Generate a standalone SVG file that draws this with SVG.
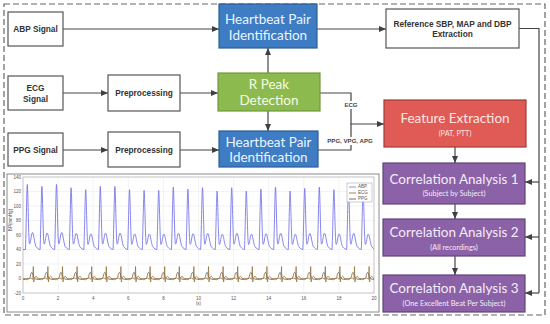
<svg xmlns="http://www.w3.org/2000/svg" xmlns:xlink="http://www.w3.org/1999/xlink" width="550" height="324" viewBox="0 0 550 324">
<style>
.wbox{fill:#ffffff;stroke:#555555;stroke-width:1.2}
.blue{fill:#3e7cc4;stroke:#2f5d93;stroke-width:1.2}
.green{fill:#8cba4f;stroke:#6f9a3a;stroke-width:1.2}
.red{fill:#e05a56;stroke:#9e3b36;stroke-width:1.2}
.purple{fill:#8b62a7;stroke:#5f4478;stroke-width:1.2}
.lbl{font-family:"Liberation Sans",Arial,sans-serif;font-weight:bold;font-size:8.3px;fill:#333333;text-anchor:middle}
.big{font-family:Lato,"Open Sans",sans-serif;font-size:13.5px;text-anchor:middle}
.sub{font-family:Lato,"Open Sans",sans-serif;font-size:7.3px;text-anchor:middle}
.tb{fill:#eaf6ff}
.tg{fill:#f4fbe8}
.tr{fill:#ffe6e2}
.tp{fill:#f4ecf8}
.conn{fill:none;stroke:#454545;stroke-width:1.2}
.clbl{font-family:"Liberation Sans",Arial,sans-serif;font-weight:bold;font-size:6.1px;fill:#444444;text-anchor:middle}
.tick{font-family:"Liberation Sans",Arial,sans-serif;font-size:4.5px;fill:#555555}
.grid{stroke:#e6e6e6;stroke-width:0.5}
.abp{fill:none;stroke:#7474ec;stroke-width:0.9}
.ecg{fill:none;stroke:#8e6a2c;stroke-width:0.7}
.ppg{fill:none;stroke:#5a4a47;stroke-width:0.7}
</style>
<defs>
<marker id="arr" markerWidth="7" markerHeight="6" refX="7" refY="3" orient="auto" markerUnits="userSpaceOnUse">
<path d="M0,0 L7,3 L0,6 z" fill="#404040"/>
</marker>
<clipPath id="plotclip"><rect x="23" y="177" width="351" height="116"/></clipPath>
<path id="abpb" d="M0,0 C0.8,-25 1.3,-65 1.8,-65 C2.4,-65 3,-10 3.9,-6 C4.8,-3 5.8,-17 7,-17 C8.2,-17 9,-6 10.5,-3 C12,-1 13.5,0 14.6,0"/>
<path id="ecgb" d="M0,0 L4.5,0 Q5.2,-1.8 5.9,0 L7.3,0.8 L7.8,-12 L8.3,3.5 L8.8,0 Q10.5,-4.5 12.2,0 L14.6,0"/>
<path id="ppgb" d="M0,1 C2,1.5 3.5,1 4.8,-2 C5.6,-7 6.8,-7.5 7.6,-3 C8.4,0 10,1.2 14.6,1"/>
</defs>
<rect width="550" height="324" fill="#ffffff"/>
<rect x="4" y="4" width="541" height="311" fill="none" stroke="#666666" stroke-width="1.2" stroke-dasharray="6 3"/>

<g id="chart">
<rect x="7" y="174" width="372" height="138" fill="#ffffff" stroke="#8a8a8a" stroke-width="1"/>
<g class="grid">
<line x1="23" y1="191.5" x2="374" y2="191.5"/><line x1="23" y1="206" x2="374" y2="206"/><line x1="23" y1="220.5" x2="374" y2="220.5"/><line x1="23" y1="235" x2="374" y2="235"/><line x1="23" y1="249.5" x2="374" y2="249.5"/><line x1="23" y1="264" x2="374" y2="264"/><line x1="23" y1="278.5" x2="374" y2="278.5"/>
<line x1="58.1" y1="177" x2="58.1" y2="293"/><line x1="93.2" y1="177" x2="93.2" y2="293"/><line x1="128.3" y1="177" x2="128.3" y2="293"/><line x1="163.4" y1="177" x2="163.4" y2="293"/><line x1="198.5" y1="177" x2="198.5" y2="293"/><line x1="233.6" y1="177" x2="233.6" y2="293"/><line x1="268.7" y1="177" x2="268.7" y2="293"/><line x1="303.8" y1="177" x2="303.8" y2="293"/><line x1="338.9" y1="177" x2="338.9" y2="293"/>
</g>
<g clip-path="url(#plotclip)">
<path class="abp" d="M23,249.5 L25.5,249.5"/>
<g class="abp">
<use href="#abpb" transform="translate(25.5 249.5)"/>
<use href="#abpb" transform="translate(40.1 249.5) scale(1 0.97)"/>
<use href="#abpb" transform="translate(54.7 249.5)"/>
<use href="#abpb" transform="translate(69.3 249.5) scale(1 0.95)"/>
<use href="#abpb" transform="translate(83.9 249.5) scale(1 0.92)"/>
<use href="#abpb" transform="translate(98.5 249.5) scale(1 0.97)"/>
<use href="#abpb" transform="translate(113.1 249.5) scale(1 0.97)"/>
<use href="#abpb" transform="translate(127.7 249.5) scale(1 0.92)"/>
<use href="#abpb" transform="translate(142.3 249.5) scale(1 0.91)"/>
<use href="#abpb" transform="translate(156.9 249.5) scale(1 0.91)"/>
<use href="#abpb" transform="translate(171.5 249.5) scale(1 0.96)"/>
<use href="#abpb" transform="translate(186.1 249.5) scale(1 0.93)"/>
<use href="#abpb" transform="translate(200.7 249.5) scale(1 0.95)"/>
<use href="#abpb" transform="translate(215.3 249.5) scale(1 0.9)"/>
<use href="#abpb" transform="translate(229.9 249.5) scale(1 0.95)"/>
<use href="#abpb" transform="translate(244.5 249.5) scale(1 0.9)"/>
<use href="#abpb" transform="translate(259.1 249.5) scale(1 0.93)"/>
<use href="#abpb" transform="translate(273.7 249.5) scale(1 0.96)"/>
<use href="#abpb" transform="translate(288.3 249.5) scale(1 0.9)"/>
<use href="#abpb" transform="translate(302.9 249.5) scale(1 0.94)"/>
<use href="#abpb" transform="translate(317.5 249.5) scale(1 0.96)"/>
<use href="#abpb" transform="translate(332.1 249.5) scale(1 0.92)"/>
<use href="#abpb" transform="translate(346.7 249.5) scale(1 0.95)"/>
<use href="#abpb" transform="translate(361.3 249.5) scale(1 0.9)"/>
</g>
<path class="ppg" d="M23,279.5 L25.5,279.5"/>
<g class="ppg">
<use href="#ppgb" transform="translate(25.5 278.5)"/><use href="#ppgb" transform="translate(40.1 278.5)"/><use href="#ppgb" transform="translate(54.7 278.5)"/><use href="#ppgb" transform="translate(69.3 278.5)"/><use href="#ppgb" transform="translate(83.9 278.5)"/><use href="#ppgb" transform="translate(98.5 278.5)"/><use href="#ppgb" transform="translate(113.1 278.5)"/><use href="#ppgb" transform="translate(127.7 278.5)"/><use href="#ppgb" transform="translate(142.3 278.5)"/><use href="#ppgb" transform="translate(156.9 278.5)"/><use href="#ppgb" transform="translate(171.5 278.5)"/><use href="#ppgb" transform="translate(186.1 278.5)"/><use href="#ppgb" transform="translate(200.7 278.5)"/><use href="#ppgb" transform="translate(215.3 278.5)"/><use href="#ppgb" transform="translate(229.9 278.5)"/><use href="#ppgb" transform="translate(244.5 278.5)"/><use href="#ppgb" transform="translate(259.1 278.5)"/><use href="#ppgb" transform="translate(273.7 278.5)"/><use href="#ppgb" transform="translate(288.3 278.5)"/><use href="#ppgb" transform="translate(302.9 278.5)"/><use href="#ppgb" transform="translate(317.5 278.5)"/><use href="#ppgb" transform="translate(332.1 278.5)"/><use href="#ppgb" transform="translate(346.7 278.5)"/><use href="#ppgb" transform="translate(361.3 278.5)"/>
</g>
<path class="ecg" d="M23,278.5 L25.5,278.5"/>
<g class="ecg">
<use href="#ecgb" transform="translate(25.5 278.5)"/><use href="#ecgb" transform="translate(40.1 278.5)"/><use href="#ecgb" transform="translate(54.7 278.5)"/><use href="#ecgb" transform="translate(69.3 278.5)"/><use href="#ecgb" transform="translate(83.9 278.5)"/><use href="#ecgb" transform="translate(98.5 278.5)"/><use href="#ecgb" transform="translate(113.1 278.5)"/><use href="#ecgb" transform="translate(127.7 278.5)"/><use href="#ecgb" transform="translate(142.3 278.5)"/><use href="#ecgb" transform="translate(156.9 278.5)"/><use href="#ecgb" transform="translate(171.5 278.5)"/><use href="#ecgb" transform="translate(186.1 278.5)"/><use href="#ecgb" transform="translate(200.7 278.5)"/><use href="#ecgb" transform="translate(215.3 278.5)"/><use href="#ecgb" transform="translate(229.9 278.5)"/><use href="#ecgb" transform="translate(244.5 278.5)"/><use href="#ecgb" transform="translate(259.1 278.5)"/><use href="#ecgb" transform="translate(273.7 278.5)"/><use href="#ecgb" transform="translate(288.3 278.5)"/><use href="#ecgb" transform="translate(302.9 278.5)"/><use href="#ecgb" transform="translate(317.5 278.5)"/><use href="#ecgb" transform="translate(332.1 278.5)"/><use href="#ecgb" transform="translate(346.7 278.5)"/><use href="#ecgb" transform="translate(361.3 278.5)"/>
</g>
</g>
<rect x="23" y="177" width="351" height="116" fill="none" stroke="#9a9a9a" stroke-width="0.6"/>
<g class="tick" text-anchor="end">
<text x="21" y="178.5">140</text><text x="21" y="193">120</text><text x="21" y="207.5">100</text><text x="21" y="222">80</text><text x="21" y="236.5">60</text><text x="21" y="251">40</text><text x="21" y="265.5">20</text><text x="21" y="280">0</text><text x="21" y="294.5">-20</text>
</g>
<g class="tick" text-anchor="middle">
<text x="23" y="299.5">0</text><text x="58.1" y="299.5">2</text><text x="93.2" y="299.5">4</text><text x="128.3" y="299.5">6</text><text x="163.4" y="299.5">8</text><text x="198.5" y="299.5">10</text><text x="233.6" y="299.5">12</text><text x="268.7" y="299.5">14</text><text x="303.8" y="299.5">16</text><text x="338.9" y="299.5">18</text><text x="374" y="299.5">20</text>
<text x="198.5" y="305">(s)</text>
</g>
<text class="tick" text-anchor="middle" font-size="4px" transform="translate(12 220) rotate(-90)">BP(mmHg)</text>
<g id="legend">
<rect x="347" y="183" width="25" height="19" fill="#ffffff" stroke="#9a9a9a" stroke-width="0.5"/>
<line x1="349" y1="187" x2="356" y2="187" stroke="#7474ec" stroke-width="0.8"/>
<line x1="349" y1="193" x2="356" y2="193" stroke="#8e6a2c" stroke-width="0.8"/>
<line x1="349" y1="199" x2="356" y2="199" stroke="#5a4a47" stroke-width="0.8"/>
<text class="tick" x="358" y="188.3" font-size="3.6px">ABP</text>
<text class="tick" x="358" y="194.3" font-size="3.6px">ECG</text>
<text class="tick" x="358" y="200.3" font-size="3.6px">PPG</text>
</g>
</g>

<g id="connectors">
<path class="conn" d="M63,29 H219" marker-end="url(#arr)"/>
<path class="conn" d="M63,93 H108" marker-end="url(#arr)"/>
<path class="conn" d="M180,93 H218" marker-end="url(#arr)"/>
<path class="conn" d="M63,150 H108" marker-end="url(#arr)"/>
<path class="conn" d="M180,150 H219" marker-end="url(#arr)"/>
<path class="conn" d="M268,73 V48" marker-end="url(#arr)"/>
<path class="conn" d="M268,111 V131" marker-end="url(#arr)"/>
<path class="conn" d="M317,29 H386" marker-end="url(#arr)"/>
<path class="conn" d="M519,28.5 H539 V293"/>
<path class="conn" d="M539,182 H525" marker-end="url(#arr)"/>
<path class="conn" d="M539,237 H525" marker-end="url(#arr)"/>
<path class="conn" d="M539,293 H525" marker-end="url(#arr)"/>
<path class="conn" d="M320,93 H351 V124 H384" marker-end="url(#arr)"/>
<path class="conn" d="M318,150 H351 V124"/>
<path class="conn" d="M455,147 V163" marker-end="url(#arr)"/>
<path class="conn" d="M455,204 V219" marker-end="url(#arr)"/>
<path class="conn" d="M455,256 V275" marker-end="url(#arr)"/>
<rect x="342" y="101" width="18" height="8" fill="#ffffff"/>
<text class="clbl" x="351" y="107">ECG</text>
<rect x="324" y="137" width="52" height="8" fill="#ffffff"/>
<text class="clbl" x="350" y="143">PPG, VPG, APG</text>
</g>

<g id="abp-signal">
<rect class="wbox" x="8" y="12" width="55" height="34"/>
<text class="lbl" x="35.5" y="32">ABP Signal</text>
</g>
<g id="ecg-signal">
<rect class="wbox" x="8" y="76" width="55" height="34"/>
<text class="lbl" x="35.5" y="91.3">ECG</text>
<text class="lbl" x="35.5" y="102">Signal</text>
</g>
<g id="ppg-signal">
<rect class="wbox" x="8" y="133" width="55" height="33"/>
<text class="lbl" x="35.5" y="153">PPG Signal</text>
</g>
<g id="preprocessing-ecg">
<rect class="wbox" x="108" y="75" width="72" height="36"/>
<text class="lbl" x="144" y="96">Preprocessing</text>
</g>
<g id="preprocessing-ppg">
<rect class="wbox" x="108" y="132" width="72" height="35"/>
<text class="lbl" x="144" y="153">Preprocessing</text>
</g>
<g id="hpi-abp">
<rect class="blue" x="219" y="4" width="98" height="44"/>
<text class="big tb" x="268" y="23.5">Heartbeat Pair</text>
<text class="big tb" x="268" y="39.5">Identification</text>
</g>
<g id="r-peak">
<rect class="green" x="218" y="73" width="102" height="38"/>
<text class="big tg" x="269" y="88.5">R Peak</text>
<text class="big tg" x="269" y="105">Detection</text>
</g>
<g id="hpi-ppg">
<rect class="blue" x="219" y="131" width="99" height="36"/>
<text class="big tb" x="268.5" y="146.5">Heartbeat Pair</text>
<text class="big tb" x="268.5" y="161.5">Identification</text>
</g>
<g id="reference">
<rect class="wbox" x="386" y="9" width="133" height="39"/>
<text class="lbl" x="452.5" y="27.3">Reference SBP, MAP and DBP</text>
<text class="lbl" x="452.5" y="37.3">Extraction</text>
</g>
<g id="feature-extraction">
<rect class="red" x="384" y="100" width="142" height="47"/>
<text class="big tr" x="455" y="123">Feature Extraction</text>
<text class="sub tr" x="455" y="135.5">(PAT, PTT)</text>
</g>
<g id="ca1">
<rect class="purple" x="383" y="163" width="142" height="41"/>
<text class="big tp" x="454" y="183.5">Correlation Analysis 1</text>
<text class="sub tp" x="454" y="195.5">(Subject by Subject)</text>
</g>
<g id="ca2">
<rect class="purple" x="383" y="219" width="142" height="37"/>
<text class="big tp" x="454" y="237">Correlation Analysis 2</text>
<text class="sub tp" x="454" y="249.5">(All recordings)</text>
</g>
<g id="ca3">
<rect class="purple" x="383" y="275" width="142" height="37"/>
<text class="big tp" x="454" y="293">Correlation Analysis 3</text>
<text class="sub tp" x="454" y="305.5">(One Excellent Beat Per Subject)</text>
</g>
</svg>
